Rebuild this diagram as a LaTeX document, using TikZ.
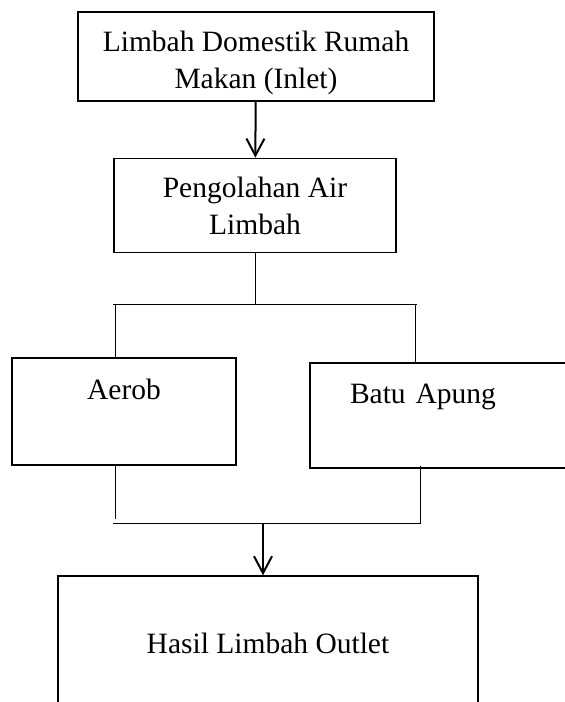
\documentclass[tikz,border=0pt]{standalone}
\usepackage{fontspec}
\setmainfont{Liberation Serif}
\usetikzlibrary{positioning, arrows.meta}

\begin{document}
\begin{tikzpicture}[x=1pt, y=-1pt, font=\fontsize{29.5}{37}\selectfont, align=center,
        >={Straight Barb[length=17pt, width=18pt, line width=2pt]}]
        % Styles
        \tikzset{
            box/.style={draw, rectangle, line width=1.4pt, inner sep=0pt, text height=20pt},
            link/.style={line width=1pt},
            flow/.style={->, line width=2pt}
        }
        \useasboundingbox (0,0) rectangle (565,702);
        \clip (0,0) rectangle (565,702);

        % Nodes
        \node[box, minimum width=356pt, minimum height=89pt, text height=63pt, text depth=0pt] (inlet) at (256,56.5) {Limbah Domestik Rumah\\Makan (Inlet)};
        \node[box, below=56pt of inlet, xshift=-1pt, minimum width=282pt, minimum height=94pt, text height=58pt, text depth=0pt] (olah) {Pengolahan Air\\Limbah};
        \node[box, minimum width=224pt, minimum height=107pt, text depth=45pt] (aerob) at (124,411.5) {Aerob};
        \node[box, minimum width=270pt, minimum height=105pt, text depth=45pt, text width=190pt, align=left] (batu) at (445,415.5) {Batu Apung};
        \node[box, minimum width=420pt, minimum height=134pt, text depth=0pt] (outlet) at (268,643) {Hasil Limbah Outlet};

        % Junctions
        \coordinate (split) at (255,304);
        \coordinate (splitL) at (115,304);
        \coordinate (splitR) at (415,304);
        \coordinate (joinL) at (115,519);
        \coordinate (joinR) at (420,523);
        \coordinate (joinM) at (113,523);
        \coordinate (join) at (263,523);

        % Edges
        \draw[flow] (inlet) -- (olah);
        \draw[link] (olah.south) -- (split);
        \draw[link] (113,304) -- (417,304);
        \draw[link] (splitL) -- (splitL |- aerob.north);
        \draw[link] (splitR) -- (splitR |- batu.north);
        \draw[link] (joinL |- aerob.south) -- (joinL);
        \draw[link] ([yshift=3pt]joinR |- batu.south) -- (joinR) -- (joinM);
        \draw[flow] (join) -- (join |- outlet.north);
\end{tikzpicture}
\end{document}
